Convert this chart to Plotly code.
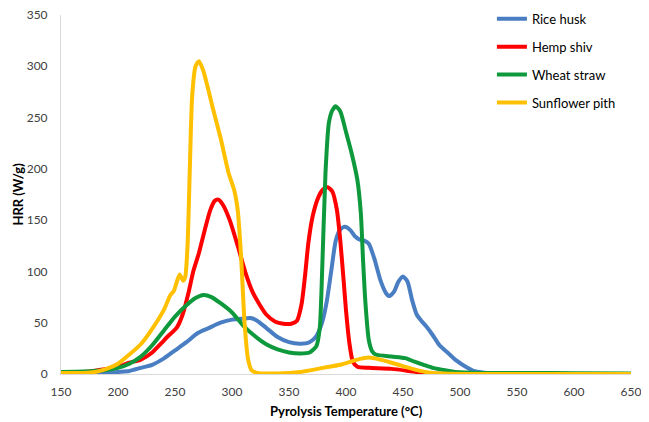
import plotly.graph_objects as go

# Rice husk
rice_T = [150, 170, 190, 200, 210, 220, 230, 240, 250, 260, 270, 280, 290, 300, 310, 316, 322, 330, 340, 350, 360, 368, 374, 379, 383, 387, 391, 395, 399, 404, 408, 412, 416, 420, 425, 430, 435, 438, 442, 446, 450, 454, 458, 462, 466, 470, 476, 482, 490, 497, 505, 512, 520, 530, 550, 600, 650]
rice_V = [0, 0.5, 1, 2, 3, 6, 9, 15, 23, 31, 40, 45, 50, 53, 54, 54.5, 52, 45, 36, 31, 29.5, 31, 37, 50, 70, 100, 130, 141, 143.5, 140, 134, 131, 130, 127, 112, 92, 79, 76, 80, 90, 95, 90, 72, 58, 52, 47, 38, 28, 20, 13, 7, 3, 1.5, 0.5, 0.3, 0, 0]

# Hemp shiv
hemp_T = [150, 170, 190, 200, 210, 220, 230, 238, 244, 248, 252, 257, 262, 266, 271, 276, 281, 285, 288, 292, 298, 305, 312, 318, 324, 330, 338, 345, 352, 357, 361, 364, 367, 371, 376, 380, 384, 388, 392, 395, 398, 400, 403, 406, 410, 420, 440, 455, 465, 475, 500, 650]
hemp_V = [1, 2, 5, 7, 11, 14, 21, 30, 37, 41, 46, 59, 80, 100, 118, 140, 160, 169, 170, 165, 150, 125, 98, 80, 68, 58, 51, 49, 49, 52, 68, 95, 128, 155, 173, 180, 182, 178, 160, 130, 90, 62, 30, 12, 7, 6, 5, 3, 1.5, 0.5, 0, 0]

# Wheat straw
wheat_T = [150, 170, 190, 200, 210, 220, 230, 240, 250, 260, 268, 275, 282, 290, 300, 310, 320, 330, 340, 350, 360, 368, 374, 377, 379, 382, 385, 388, 391, 395, 400, 405, 410, 413, 415, 417, 420, 423, 426, 440, 452, 460, 468, 476, 485, 496, 520, 560, 600, 650]
wheat_V = [2, 2.5, 4, 6, 10, 17, 28, 42, 56, 67, 74, 77, 75, 69, 60, 47, 37, 29, 24, 21, 20, 21, 27, 45, 98, 196, 245, 257, 261, 256, 236, 215, 189, 157, 110, 70, 33, 22, 19, 17, 15.5, 12, 9, 6, 4, 2, 1, 1, 0.7, 0.5]

# Sunflower pith
sun_T = [150, 170, 180, 190, 200, 210, 220, 230, 240, 246, 249, 254, 257, 259, 261, 263, 265, 268, 271, 275, 283, 290, 297, 302, 305, 308, 311, 314, 317, 322, 340, 360, 380, 395, 410, 420, 430, 440, 452, 465, 476, 490, 520, 650]
sun_V = [1, 1, 2, 5, 10, 19, 29, 44, 62, 77, 81, 97, 91, 95, 125, 200, 270, 300, 305, 295, 260, 230, 196, 179, 160, 114, 50, 15, 4, 1, 0.5, 2, 6, 9, 14, 16, 14, 11, 7, 3, 1, 0.3, 0, 0]

x_ticks = [150, 200, 250, 300, 350, 400, 450, 500, 550, 600, 650]
y_ticks = [0, 50, 100, 150, 200, 250, 300, 350]

series = [
    ("Rice husk", rice_T, rice_V, "#4a7ec2"),
    ("Hemp shiv", hemp_T, hemp_V, "#ff0000"),
    ("Wheat straw", wheat_T, wheat_V, "#0e9a3c"),
    ("Sunflower pith", sun_T, sun_V, "#ffc000"),
]

fig = go.Figure()
for name, xs, ys, col in series:
    fig.add_trace(go.Scatter(
        x=xs, y=ys, name=name, mode="lines", legendgroup=name,
        line=dict(color=col, width=4, shape="spline", smoothing=0.6),
    ))

FONT = "Lato"
fig.update_layout(
    width=641, height=414,
    margin=dict(l=53, r=18, t=7, b=48, autoexpand=False),
    paper_bgcolor="white", plot_bgcolor="white",
    font=dict(family=FONT, color="#404040", size=12),
    showlegend=True,
    legend=dict(
        x=0.756, y=1.031, xanchor="left", yanchor="top",
        font=dict(family=FONT, size=13, color="#000000"),
        tracegroupgap=8, bgcolor="rgba(0,0,0,0)",
    ),
    xaxis=dict(
        range=[150, 650], tickvals=x_ticks, ticktext=[str(v) for v in x_ticks],
        showgrid=False, zeroline=False, showline=True, linecolor="#d9d9d9", linewidth=1,
        ticks="", ticklabelstandoff=7, automargin=False, ticklabeloverflow="allow",
        tickfont=dict(family=FONT, size=12, color="#404040"),
    ),
    yaxis=dict(
        range=[0, 350], tickvals=y_ticks, ticktext=[str(v) for v in y_ticks],
        showgrid=False, zeroline=False, showline=True, linecolor="#d9d9d9", linewidth=1,
        ticks="", ticklabelstandoff=10, automargin=False, ticklabeloverflow="allow",
        tickfont=dict(family=FONT, size=12, color="#404040"),
    ),
    annotations=[
        dict(text="<b>Pyrolysis Temperature (°C)</b>", xref="paper", yref="paper",
             x=0.5, y=-0.103, xanchor="center", yanchor="middle", showarrow=False,
             font=dict(family=FONT, size=13, color="#000000")),
        dict(text="<b>HRR (W/g)</b>", xref="paper", yref="paper",
             x=-0.077, y=0.5, xanchor="center", yanchor="middle", showarrow=False,
             textangle=-90, font=dict(family=FONT, size=13, color="#000000")),
    ],
)

fig.write_html("out.html")
